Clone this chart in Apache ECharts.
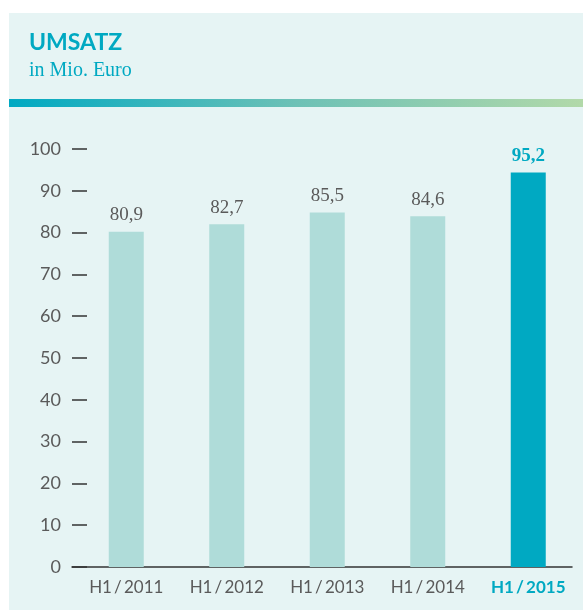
<!DOCTYPE html>
<html>
<head>
<meta charset="utf-8">
<script src="https://cdn.jsdelivr.net/npm/echarts@6/dist/echarts.min.js"></script>
<style>
  html, body { margin: 0; padding: 0; background: #fff; }
  #umsatzChart { width: 583px; height: 610px; }
</style>
</head>
<body>
<div id="umsatzChart"></div>
<script>
const categories = ["H1/2011", "H1/2012", "H1/2013", "H1/2014", "H1/2015"];
const values = [80.9, 82.7, 85.5, 84.6, 95.2];
const yTicks = [0, 10, 20, 30, 40, 50, 60, 70, 80, 90, 100];
const highlightIndex = 4;

const teal = "#00a9c2";
const pale = "#afdcd9";
const grey = "#5a5a5a";

let myChart = echarts.init(document.getElementById("umsatzChart"));

const barData = values.map(function (v, i) {
  if (i !== highlightIndex) return v;
  return {
    value: v,
    itemStyle: { color: teal },
    label: { color: teal, fontWeight: "bold" },
  };
});

let option = {
  animation: false,
  backgroundColor: "#fff",
  graphic: [
    {
      type: "rect",
      left: 9,
      top: 13,
      shape: { width: 574, height: 597 },
      style: { fill: "#e6f4f4" },
      z: -10,
    },
    {
      type: "rect",
      left: 9,
      top: 99,
      shape: { width: 574, height: 8 },
      style: {
        fill: new echarts.graphic.LinearGradient(0, 0, 1, 0, [
          { offset: 0, color: "#00a9c2" },
          { offset: 0.5, color: "#6dc1b6" },
          { offset: 1, color: "#b2d9a9" },
        ]),
      },
      z: -5,
    },
  ],
  title: [
    {
      text: "UMSATZ",
      left: 29,
      top: 31,
      padding: 0,
      textStyle: {
        fontFamily: "Lato",
        fontWeight: "bold",
        fontSize: 23,
        color: teal,
      },
    },
    {
      text: "in Mio. Euro",
      left: 29,
      top: 61,
      padding: 0,
      textStyle: {
        fontFamily: "Liberation Serif",
        fontWeight: "normal",
        fontSize: 20,
        color: teal,
      },
    },
  ],
  grid: [
    // axis grid: y ticks and the baseline
    { left: 72, right: 11, top: 149, bottom: 43 },
    // bars
    { left: 76, right: 4.5, top: 152.5, bottom: 43 },
  ],
  xAxis: [
    {
      gridIndex: 0,
      type: "category",
      data: categories,
      axisLine: { show: true, lineStyle: { color: "#333", width: 1.5 } },
      axisTick: { show: false },
      axisLabel: { show: false },
    },
    {
      gridIndex: 1,
      type: "category",
      data: categories,
      axisLine: { show: false },
      axisTick: { show: false },
      axisLabel: {
        interval: 0,
        margin: 12,
        fontFamily: "Lato",
        fontSize: 17,
        color: grey,
        formatter: function (val, idx) {
          const s = val.replace("/", "\u2009/\u2009");
          return idx === highlightIndex ? "{hl|" + s + "}" : s;
        },
        rich: {
          hl: { color: teal, fontWeight: "bold", fontFamily: "Lato", fontSize: 17 },
        },
      },
    },
  ],
  yAxis: [
    {
      gridIndex: 0,
      type: "value",
      min: yTicks[0],
      max: yTicks[yTicks.length - 1],
      interval: 10,
      axisLine: { show: false },
      axisTick: {
        show: true,
        inside: true,
        length: 15,
        lineStyle: { color: "#333", width: 1.5 },
      },
      axisLabel: {
        margin: 11,
        fontFamily: "Lato",
        fontSize: 18,
        color: grey,
      },
      splitLine: { show: false },
    },
    {
      gridIndex: 1,
      type: "value",
      min: 0,
      max: 100,
      show: false,
      splitLine: { show: false },
    },
  ],
  series: [
    {
      name: "Umsatz",
      type: "bar",
      xAxisIndex: 1,
      yAxisIndex: 1,
      barWidth: 35,
      itemStyle: { color: pale },
      label: {
        show: true,
        position: "top",
        distance: 7,
        fontFamily: "Liberation Serif",
        fontSize: 19,
        color: grey,
        formatter: function (p) {
          return String(p.value).replace(".", ",");
        },
      },
      data: barData,
      z: 1,
    },
  ],
};

myChart.setOption(option);
</script>
</body>
</html>
